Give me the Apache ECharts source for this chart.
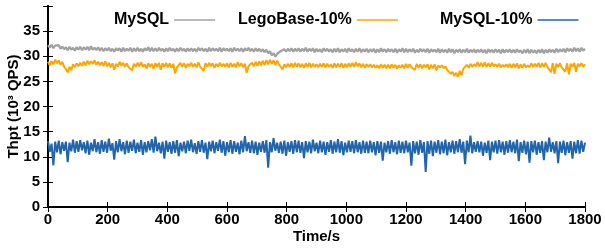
<!DOCTYPE html>
<html>
<head>
<meta charset="utf-8">
<script src="https://cdn.jsdelivr.net/npm/echarts@6/dist/echarts.min.js"></script>
<style>
  html, body { margin: 0; padding: 0; background: #fff; }
  #chart { width: 605px; height: 248px; }
</style>
</head>
<body>
<div id="chart"></div>
<script>
// sample every 6 s, 0..1800
var STEP = 6;
var xTicks = [0, 200, 400, 600, 800, 1000, 1200, 1400, 1600, 1800];
var yTicks = [0, 5, 10, 15, 20, 25, 30, 35];
var seriesNames = ['MySQL', 'LegoBase-10%', 'MySQL-10%'];

var mysql = [
  32.2,31.7,32.3,31.6,32.1,31.8,32.2,31.5,31.9,31.4,
  31.8,31.2,31.9,31.3,31.7,31.1,31.8,31.3,31.9,31.2,
  31.8,31.3,31.9,31.2,32.0,31.3,31.7,31.2,31.8,31.1,
  31.7,31.0,31.6,31.1,31.7,31.0,31.5,30.9,31.6,31.1,
  31.6,30.9,31.7,31.0,31.5,31.1,31.7,30.9,31.6,31.0,
  31.7,31.0,31.5,30.9,31.6,31.1,31.8,31.0,31.7,31.0,
  31.6,31.0,31.7,31.1,31.5,30.9,31.6,31.0,31.7,31.1,
  31.5,30.9,31.6,31.0,31.7,31.1,31.5,30.9,31.6,31.0,
  31.6,31.0,31.5,30.9,31.7,31.1,31.6,31.0,31.5,30.9,
  31.7,31.0,31.6,31.1,31.5,31.0,31.7,30.9,31.6,31.1,
  31.5,31.0,31.6,30.9,31.7,31.1,31.5,31.0,31.6,30.9,
  31.6,31.1,31.7,31.0,31.5,30.9,31.6,31.0,31.5,30.9,
  31.4,30.8,31.3,30.6,31.0,30.2,30.6,29.9,30.5,30.2,
  31.0,30.7,31.4,30.9,31.5,31.0,31.6,30.9,31.5,31.0,
  31.6,30.9,31.5,31.0,31.7,30.9,31.5,31.0,31.6,30.8,
  31.5,30.9,31.4,30.8,31.6,31.0,31.5,30.9,31.4,30.8,
  31.5,30.9,31.6,30.8,31.4,30.9,31.5,30.8,31.6,31.0,
  31.4,30.8,31.5,30.9,31.6,30.8,31.4,30.9,31.5,30.8,
  31.4,30.9,31.5,30.7,31.4,30.8,31.6,30.9,31.4,30.8,
  31.5,30.9,31.4,30.8,31.5,30.7,31.4,30.9,31.6,30.8,
  31.5,30.8,31.4,30.9,31.5,30.7,31.3,30.8,31.5,30.9,
  31.4,30.8,31.5,30.7,31.4,30.9,31.3,30.8,31.5,30.7,
  31.4,30.8,31.3,30.7,31.5,30.8,31.4,30.6,31.3,30.8,
  31.4,30.7,31.3,30.8,31.5,30.7,31.3,30.8,31.4,30.7,
  31.3,30.8,31.4,30.7,31.3,30.6,31.4,30.8,31.3,30.7,
  31.4,30.8,31.3,30.6,31.4,30.7,31.3,30.8,31.4,30.7,
  31.3,30.7,31.4,30.8,31.2,30.6,31.3,30.7,31.4,30.6,
  31.3,30.7,31.2,30.6,31.3,30.7,31.4,30.6,31.3,30.7,
  31.4,30.8,31.3,30.7,31.5,30.8,31.4,30.9,31.5,30.8,
  31.6,31.0,31.5,30.9,31.7,31.0,31.6,30.9,31.7,31.1,
  31.5
];

var legobase = [
  28.9,28.2,29.0,28.4,29.3,28.6,29.2,28.3,28.9,27.9,
  27.5,26.8,27.9,27.2,28.4,27.8,28.6,28.0,28.7,28.1,
  28.9,28.2,29.1,28.4,29.0,28.5,29.2,28.3,28.9,28.2,
  28.8,28.1,29.0,28.0,28.7,27.8,28.6,27.3,28.5,28.0,
  28.9,28.1,28.7,27.9,28.6,27.8,27.9,27.2,28.5,27.9,
  28.7,28.0,28.8,27.9,28.4,27.6,28.6,27.9,28.5,27.5,
  28.6,27.9,28.7,27.3,28.6,27.9,28.7,27.8,28.6,27.7,
  28.5,26.6,27.8,27.6,28.7,27.9,28.6,27.7,28.5,28.0,
  28.7,27.9,28.5,27.8,28.8,27.9,27.9,27.1,28.6,27.9,
  28.7,28.0,28.6,27.7,28.5,27.9,28.7,28.0,28.5,27.9,
  28.6,27.8,28.7,27.9,28.5,27.8,28.8,28.0,28.6,27.8,
  28.5,26.7,28.0,27.7,28.7,28.0,28.9,28.1,29.0,28.2,
  29.1,28.3,29.2,28.4,29.3,28.5,29.2,28.3,29.1,28.4,
  28.6,27.4,28.4,27.8,28.5,27.9,28.6,27.8,28.7,27.9,
  28.6,27.8,28.5,27.7,28.6,27.9,28.7,27.8,28.5,27.9,
  28.4,27.8,28.5,27.9,28.6,27.8,28.5,27.9,28.4,27.7,
  28.6,27.8,28.5,27.9,28.6,27.7,28.5,27.8,28.6,27.9,
  28.7,27.9,28.8,28.0,28.6,27.8,28.5,27.7,28.4,27.9,
  28.4,27.8,28.3,27.7,28.2,27.6,28.4,27.7,28.3,27.6,
  28.3,27.6,28.4,27.7,28.3,27.5,28.2,27.7,28.3,27.6,
  28.5,27.7,28.4,27.8,27.8,27.3,28.5,27.7,28.4,27.6,
  28.3,27.8,28.4,27.4,28.3,27.6,28.4,27.2,28.2,27.8,
  28.2,27.6,28.0,27.3,27.6,26.5,26.9,26.1,26.7,25.9,
  27.1,26.2,27.5,27.3,28.3,27.7,28.5,27.9,28.4,28.0,
  28.8,28.0,28.7,27.9,28.8,27.9,28.6,27.9,28.7,28.0,
  28.4,27.9,28.5,27.8,28.3,27.9,28.4,27.8,28.5,27.7,
  28.5,27.8,28.6,27.6,28.4,27.7,28.5,27.8,28.2,27.8,
  28.6,27.9,28.5,27.9,28.7,27.8,28.6,27.9,28.7,27.9,
  28.0,26.8,28.6,26.5,28.5,27.9,28.6,27.8,27.6,26.9,
  28.6,26.4,28.5,27.9,28.7,26.9,28.5,28.0,28.6,27.9,
  28.4
];

var mysql10 = [
  13.1,11.0,12.6,8.3,13.0,10.9,13.2,10.5,12.9,11.2,
  13.0,8.9,12.8,11.1,13.4,10.8,13.1,11.0,13.3,11.3,
  12.9,10.7,13.2,10.4,12.8,11.1,13.5,10.9,12.9,10.6,
  13.3,11.0,13.0,10.8,13.6,11.2,12.7,9.4,13.1,10.9,
  13.5,11.1,12.9,10.5,13.2,10.8,13.0,11.2,13.4,10.7,
  12.8,11.0,13.3,10.4,12.9,10.9,13.1,11.3,13.5,10.8,
  14.0,11.1,12.8,10.7,13.0,9.6,13.2,11.0,12.9,10.6,
  13.1,10.8,13.3,10.1,12.8,11.1,13.0,10.7,13.2,11.2,
  13.4,10.9,12.7,10.6,13.1,11.0,13.3,10.8,12.8,9.5,
  13.0,11.1,13.2,10.7,12.9,11.2,13.4,10.8,13.1,10.2,
  12.9,10.9,13.3,10.6,13.1,11.0,12.8,10.5,13.2,10.9,
  14.1,11.1,12.9,10.8,13.2,10.7,13.0,10.4,12.8,11.0,
  13.1,10.8,13.3,7.8,12.9,10.9,13.7,11.2,12.8,10.8,
  13.0,10.6,13.2,10.2,12.9,11.0,13.1,10.6,13.3,10.9,
  13.2,10.8,12.9,9.7,13.1,10.9,13.0,10.7,13.4,11.1,
  12.8,10.7,13.2,10.9,13.0,10.4,12.9,11.0,13.3,10.6,
  13.0,10.9,13.5,10.8,13.1,10.3,12.8,10.9,13.2,11.0,
  13.1,10.7,13.3,10.9,12.9,10.6,13.2,10.8,13.0,10.7,
  13.2,10.9,12.9,10.3,13.1,10.8,13.0,9.2,12.8,10.9,
  13.1,10.6,13.3,10.9,12.9,10.5,13.2,10.8,13.0,10.7,
  13.2,10.9,12.8,8.2,13.1,10.7,13.0,10.4,13.3,10.8,
  12.9,7.0,13.1,10.6,13.2,10.1,13.0,10.8,13.3,10.5,
  13.0,10.7,13.4,10.3,12.9,10.9,13.2,10.6,13.1,10.9,
  13.5,10.8,13.0,8.5,13.2,10.9,14.2,10.7,12.9,11.0,
  13.1,10.9,13.0,10.2,12.8,10.8,13.2,9.3,13.0,10.9,
  13.2,10.6,13.3,10.9,13.0,10.4,13.1,10.8,13.3,10.9,
  13.0,10.7,13.4,9.1,12.9,10.8,13.2,10.5,13.0,8.8,
  13.1,10.9,13.2,10.4,12.9,10.8,13.1,9.3,13.0,10.9,
  13.8,11.0,12.9,10.7,13.1,8.7,13.0,10.8,13.2,10.3,
  12.9,10.8,13.1,9.6,13.0,10.7,13.3,10.6,13.2,11.0,
  12.8
];

var colors = ['#a0a0a0', '#ffa500', '#2166ac'];
var font = 'Liberation Sans, Arial, sans-serif';

function toPairs(arr) {
  return arr.map(function (v, i) { return [i * STEP, v]; });
}

var chart = echarts.init(document.getElementById('chart'), null, { renderer: 'canvas' });

function legendAt(left, name) {
  return {
    data: [name],
    left: left,
    top: 12,
    align: 'right',
    icon: 'rect',
    itemWidth: 41,
    itemHeight: 1.5,
    selectedMode: false,
    textStyle: { fontFamily: font, fontSize: 16, fontWeight: 'bold', color: '#000' },
    padding: 0
  };
}

var tickStyle = { show: true, inside: true, length: 5, lineStyle: { color: '#000', width: 1 } };
var lineStyleAxis = { show: true, lineStyle: { color: '#000', width: 2 } };

chart.setOption({
  animation: false,
  backgroundColor: '#fff',
  grid: { left: 48, right: 20, top: 6, bottom: 41, outerBoundsMode: 'none', containLabel: false },
  legend: [
    legendAt(114, seriesNames[0]),
    legendAt(238, seriesNames[1]),
    legendAt(440, seriesNames[2])
  ],
  xAxis: [{
    type: 'value',
    min: 0, max: 1800, interval: 200,
    name: 'Time/s',
    nameLocation: 'middle',
    nameGap: 22,
    nameMoveOverlap: false,
    nameTextStyle: { fontFamily: font, fontSize: 15, fontWeight: 'bold', color: '#000' },
    axisLine: lineStyleAxis,
    axisTick: tickStyle,
    splitLine: { show: false },
    axisLabel: {
      margin: 5, fontFamily: font, fontSize: 15, fontWeight: 'bold', color: '#000',
      formatter: function (v) { return xTicks.indexOf(v) >= 0 ? String(v) : ''; }
    }
  }, {
    type: 'value', position: 'top',
    min: 0, max: 1800, interval: 200,
    axisLine: lineStyleAxis,
    axisTick: tickStyle,
    splitLine: { show: false },
    axisLabel: { show: false }
  }],
  yAxis: [{
    type: 'value',
    min: 0, max: 40, interval: 5,
    name: 'Thpt (10\u00b3 QPS)',
    nameLocation: 'middle',
    nameRotate: 90,
    nameGap: 27,
    nameMoveOverlap: false,
    nameTextStyle: { fontFamily: font, fontSize: 15, fontWeight: 'bold', color: '#000' },
    axisLine: lineStyleAxis,
    axisTick: tickStyle,
    splitLine: { show: false },
    axisLabel: {
      margin: 8, fontFamily: font, fontSize: 15, fontWeight: 'bold', color: '#000',
      formatter: function (v) { return yTicks.indexOf(v) >= 0 ? String(v) : ''; }
    }
  }, {
    type: 'value', position: 'right',
    min: 0, max: 40, interval: 5,
    axisLine: lineStyleAxis,
    axisTick: tickStyle,
    splitLine: { show: false },
    axisLabel: { show: false }
  }],
  series: [
    { name: seriesNames[0], type: 'line', data: toPairs(mysql), showSymbol: false, symbol: 'none',
      itemStyle: { color: colors[0] }, lineStyle: { color: colors[0], width: 2.2 } },
    { name: seriesNames[1], type: 'line', data: toPairs(legobase), showSymbol: false, symbol: 'none',
      itemStyle: { color: colors[1] }, lineStyle: { color: colors[1], width: 2 } },
    { name: seriesNames[2], type: 'line', data: toPairs(mysql10), showSymbol: false, symbol: 'none',
      itemStyle: { color: colors[2] }, lineStyle: { color: colors[2], width: 2 } }
  ]
});
</script>
</body>
</html>
